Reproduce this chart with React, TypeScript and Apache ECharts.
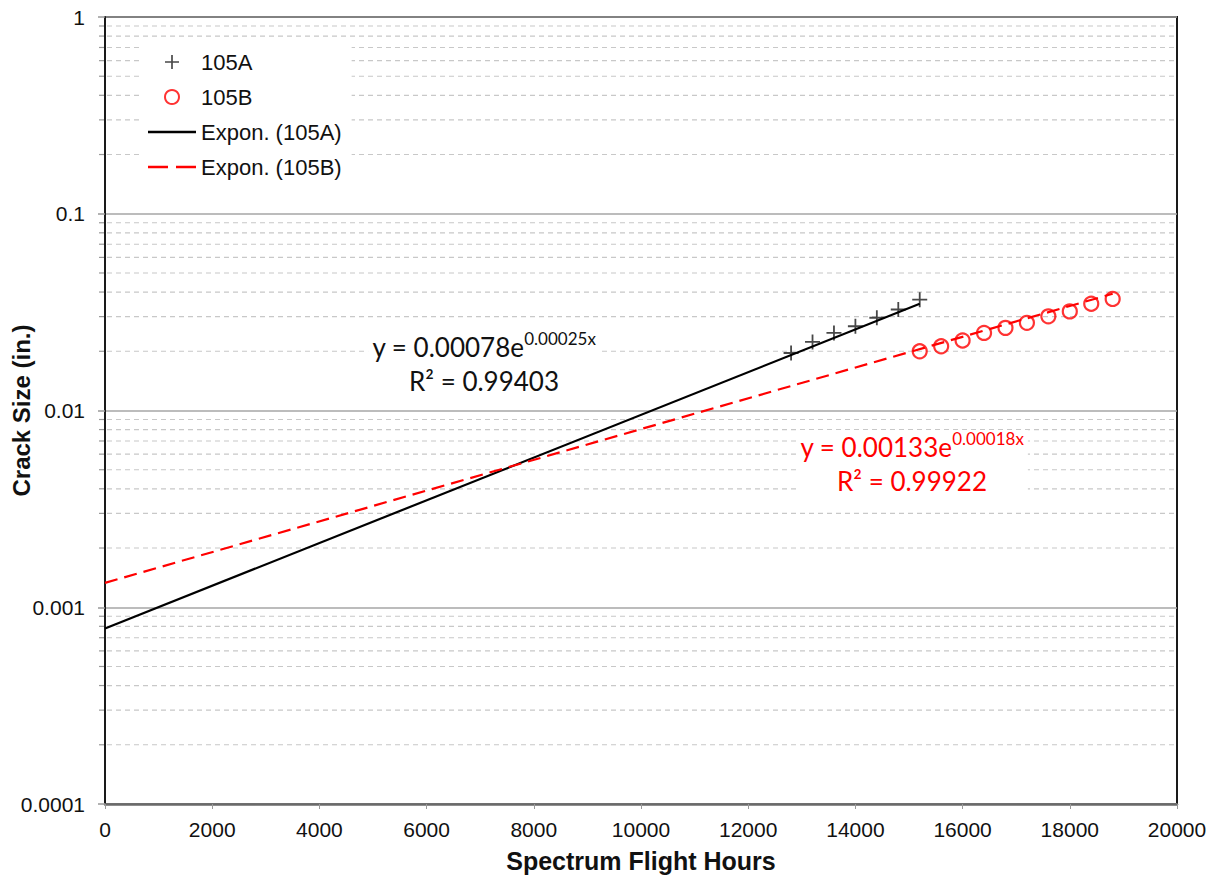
import React, { useEffect, useRef } from "react";
import * as echarts from "echarts";

// Specimen 105A: flight hours and measured crack size (in.)
const hoursA = [12800, 13200, 13600, 14000, 14400, 14800, 15200];
const crackA = [0.0196, 0.0223, 0.0248, 0.0268, 0.0296, 0.0326, 0.0366];

// Specimen 105B
const hoursB = [15200, 15600, 16000, 16400, 16800, 17200, 17600, 18000, 18400, 18800];
const crackB = [0.02, 0.0212, 0.0227, 0.0248, 0.0263, 0.0279, 0.0301, 0.0319, 0.0349, 0.0369];

// Exponential trend fits y = a * e^(b x)
const fitA = { a: 0.00078, b: 0.00025, r2: "0.99403", from: 0, to: 15200 };
const fitB = { a: 0.00133, b: 0.00018, r2: "0.99922", from: 0, to: 18800 };

// Axis ranges and ticks
const xMin = 0;
const xMax = 20000;
const xStep = 2000;
const yMin = 0.0001;
const yMax = 1;
const decades = [0.0001, 0.001, 0.01, 0.1];
const minorMultipliers = [2, 3, 4, 5, 6, 7, 8, 9];

const legendNames = ["105A", "105B", "Expon. (105A)", "Expon. (105B)"];

const trendPoints = (f: { a: number; b: number; from: number; to: number }) => [
  [f.from, f.a * Math.exp(f.b * f.from)],
  [f.to, f.a * Math.exp(f.b * f.to)],
];

const minorValues: number[] = [];
decades.forEach((d) => minorMultipliers.forEach((m) => minorValues.push(+(d * m).toPrecision(2))));

const PLUS = "path://M4.4,0h1.2v4.4h4.4v1.2h-4.4v4.4h-1.2v-4.4h-4.4v-1.2h4.4z";
// legend swatches for the trend lines: a solid bar and two dashes
const SOLID_ICON = "path://M0,0h48v2.4h-48z";
const DASH_ICON = "path://M0,0h20v2.4h-20zM28,0h20v2.4h-20z";

const SANS = "'Liberation Sans', Arial, sans-serif";
const EQ = "Lato, 'Open Sans', sans-serif";

export default function App() {
  const ref = useRef<HTMLDivElement>(null);

  useEffect(() => {
    if (!ref.current) return;
    const chart = echarts.init(ref.current, null, { renderer: "svg" });

    const equation = (f: typeof fitA, color: string, cx: number, top: number) => ({
      type: "text",
      x: cx,
      y: top,
      z: 10,
      style: {
        text: `{m|y = ${f.a}e}{s|${f.b}x}\n{m|R² = ${f.r2}}`,
        align: "center",
        verticalAlign: "top",
        backgroundColor: "#fff",
        padding: [0, 4],
        fill: color,
        rich: {
          m: { fontFamily: EQ, fontSize: 26, lineHeight: 34, fill: color, align: "center" },
          s: {
            fontFamily: EQ,
            fontSize: 17,
            lineHeight: 34,
            verticalAlign: "top",
            fill: color,
            align: "center",
          },
        },
      },
    });

    chart.setOption({
      animation: false,
      backgroundColor: "#fff",
      grid: {
        left: 105,
        right: 40,
        top: 17,
        bottom: 71,
        outerBoundsMode: "none",
        containLabel: false,
        show: true,
        borderColor: "#1a1a1a",
        borderWidth: 2,
        backgroundColor: "transparent",
      },
      legend: {
        data: [
          { name: legendNames[0] },
          { name: legendNames[1] },
          { name: legendNames[2], icon: SOLID_ICON },
          { name: legendNames[3], icon: DASH_ICON },
        ],
        orient: "vertical",
        left: 140,
        top: 40,
        padding: [11, 10, 11, 8],
        itemWidth: 48,
        itemHeight: 14,
        itemGap: 13,
        backgroundColor: "#fff",
        textStyle: { fontFamily: SANS, fontSize: 22, color: "#111" },
        selectedMode: false,
      },
      xAxis: {
        type: "value",
        min: xMin,
        max: xMax,
        interval: xStep,
        name: "Spectrum Flight Hours",
        nameLocation: "middle",
        nameGap: 44,
        nameMoveOverlap: false,
        nameTextStyle: { fontFamily: SANS, fontSize: 25, fontWeight: "bold", color: "#111" },
        axisLine: { show: true, onZero: false, lineStyle: { color: "#6a6a6a", width: 2.5 } },
        axisTick: { show: true, inside: false, length: 5, lineStyle: { color: "#999" } },
        axisLabel: {
          fontFamily: SANS,
          fontSize: 21,
          color: "#111",
          margin: 15,
          formatter: (v: number) => String(v),
        },
        splitLine: { show: false },
      },
      yAxis: {
        type: "log",
        logBase: 10,
        min: yMin,
        max: yMax,
        name: "Crack Size (in.)",
        nameLocation: "middle",
        nameGap: 72,
        nameMoveOverlap: false,
        nameTextStyle: { fontFamily: SANS, fontSize: 24, fontWeight: "bold", color: "#111" },
        axisLine: { show: true, lineStyle: { color: "#1a1a1a", width: 2 } },
        axisTick: { show: true, inside: false, length: 7, lineStyle: { color: "#999", width: 1.5 } },
        axisLabel: {
          fontFamily: SANS,
          fontSize: 21,
          color: "#111",
          margin: 20,
          formatter: (v: number) => String(Number(v.toPrecision(1))),
        },
        splitLine: { show: true, lineStyle: { color: "#a6a6a6", width: 1.5 } },
      },
      series: [
        {
          // minor gridlines and minor ticks at 2..9 of every decade
          type: "custom",
          silent: true,
          clip: false,
          z: 0,
          data: minorValues.map((v) => [xMin, v]),
          renderItem: (params: any, api: any) => {
            const v = api.value(1);
            const p0 = api.coord([xMin, v]);
            const p1 = api.coord([xMax, v]);
            return {
              type: "group",
              children: [
                {
                  type: "line",
                  shape: { x1: p0[0] + 2, y1: p0[1], x2: p1[0] - 1, y2: p1[1] },
                  style: { stroke: "#c8c8c8", lineWidth: 1.2, lineDash: [5, 4] },
                },
                {
                  type: "line",
                  shape: { x1: p0[0] - 6, y1: p0[1], x2: p0[0], y2: p0[1] },
                  style: { stroke: "#999", lineWidth: 1.2 },
                },
              ],
            };
          },
        },
        {
          name: "105A",
          type: "scatter",
          data: hoursA.map((h, i) => [h, crackA[i]]),
          symbol: PLUS,
          symbolSize: 15,
          itemStyle: { color: "#1a1a1a" },
          z: 3,
        },
        {
          name: "105B",
          type: "scatter",
          data: hoursB.map((h, i) => [h, crackB[i]]),
          symbol: "circle",
          symbolSize: 14,
          itemStyle: { color: "rgba(255,255,255,0)", borderColor: "#ff0000", borderWidth: 2.2 },
          z: 3,
        },
        {
          name: "Expon. (105A)",
          type: "line",
          data: trendPoints(fitA),
          showSymbol: false,
          symbol: "none",
          lineStyle: { color: "#000", width: 2.2 },
          itemStyle: { color: "#000", borderWidth: 0 },
          z: 4,
        },
        {
          name: "Expon. (105B)",
          type: "line",
          data: trendPoints(fitB),
          showSymbol: false,
          symbol: "none",
          lineStyle: { color: "#ff0000", width: 2.2, type: [13, 7] },
          itemStyle: { color: "#ff0000", borderWidth: 0 },
          z: 4,
        },
      ],
      graphic: [equation(fitA, "#111", 484, 330), equation(fitB, "#ff0000", 912, 430)],
    });

    return () => chart.dispose();
  }, []);

  return <div ref={ref} style={{ width: 1217, height: 875, position: "absolute", left: 0, top: 0 }} />;
}
